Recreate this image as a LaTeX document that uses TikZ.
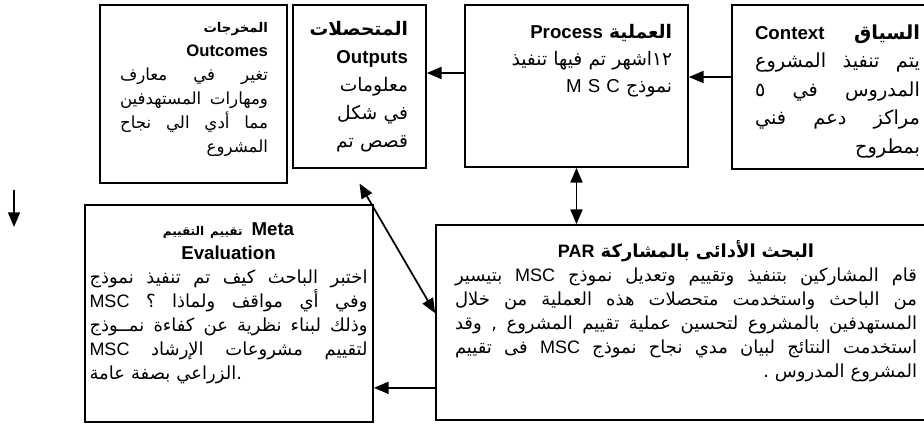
\documentclass[tikz,border=0pt]{standalone}
\usepackage{fontspec}
\setmainfont{Liberation Sans}
\newfontfamily\arabicfont[Script=Arabic]{DejaVu Sans}
\TeXXeTstate=1
\usetikzlibrary{arrows.meta,positioning}

% one line of a box: justified, flush right, centred, flush left
\ExplSyntaxOn
\seq_new:N \l_line_words_seq
\NewDocumentCommand\jl{m}{
  \seq_set_split:Nnn \l_line_words_seq {~} {#1}
  \hbox_to_wd:nn {\hsize} {\seq_use:Nn \l_line_words_seq {\skip_horizontal:n {0.3em~plus~1fill}}}
}
\ExplSyntaxOff
\newcommand\rl[1]{\hbox to\hsize{\hfil #1}}
\newcommand\cl[1]{\hbox to\hsize{\hfil #1\hfil}}
\newcommand\fl[1]{\hbox to\hsize{#1\hfil}}
\newcommand\lat[1]{\beginL{\rmfamily #1}\endL}
\newcommand\arsize[2]{\arabicfont\fontsize{#1}{#2}\selectfont}

\tikzset{
  box/.style={draw, line width=1.3pt, inner sep=0pt},
  txt/.style={inner sep=0pt, anchor=base},
  arr/.style={-{Triangle[length=11pt,width=9pt]}, line width=1.3pt},
  dblarr/.style={{Triangle[length=11pt,width=9pt]}-{Triangle[length=11pt,width=9pt]}, line width=1.3pt}
}

\begin{document}
\begin{tikzpicture}[x=0.75pt, y=-0.75pt]
\useasboundingbox (0,0) rectangle (924,425);
% boxes
\node[box, minimum width=150pt, minimum height=123pt] (Context) at (832,87) {};
\node[box, minimum width=167.25pt, minimum height=121.5pt] (Process) at (576.5,86) {};
\node[box, minimum width=99.75pt, minimum height=122.25pt] (Outputs) at (359.5,86.5) {};
\node[box, minimum width=140.25pt, minimum height=133.5pt] (Outcomes) at (193.5,94) {};
\node[box, minimum width=216pt, minimum height=162.75pt] (Meta) at (229,313.5) {};
\node[box, minimum width=372pt, minimum height=146.25pt] (PAR) at (684,322.5) {};
% texts
\node[txt, font=\arsize{14.5}{21.4}, text width=123.75pt] (ContextTxt) at (837.5,39) {%
  \jl{\beginR\bfseries السياق \lat{\fontsize{14}{16}\selectfont Context}\endR}
  \jl{\beginR يتم تنفيذ المشروع\endR}
  \jl{\beginR المدروس في ٥\endR}
  \jl{\beginR مراكز دعم فني\endR}
  \rl{\beginR بمطروح\endR}};
\node[txt, font=\arsize{14}{20.6}, text width=148pt] (ProcessTxt) at (573.5,38) {%
  \rl{\beginR\bfseries العملية \lat{\fontsize{14}{16}\selectfont Process}\endR}
  \rl{\beginR ١٢اشهر تم فيها تنفيذ\endR}
  \rl{\beginR نموذج \lat{M S C}\endR}};
\node[txt, font=\arsize{14}{21}, text width=81pt] (OutputsTxt) at (354,35) {%
  \rl{\beginR\bfseries المتحصلات\endR}
  \rl{\lat{\fontsize{14}{16}\selectfont\bfseries Outputs}}
  \rl{\beginR معلومات\endR}
  \rl{\beginR في شكل\endR}
  \rl{\beginR قصص تم\endR}};
\node[txt, font=\arsize{12.5}{18}, text width=111pt] (OutcomesTxt) at (194,32) {%
  \rl{\beginR\fontsize{10}{12}\selectfont\bfseries المخرجات\endR}
  \rl{\lat{\fontsize{12.5}{14}\selectfont\bfseries Outcomes}}
  \jl{\beginR تغير في معارف\endR}
  \jl{\beginR ومهارات المستهدفين\endR}
  \jl{\beginR مما أدي الي نجاح\endR}
  \rl{\beginR المشروع\endR}};
% this box runs left to right, with right-to-left runs in it
\node[txt, font=\arsize{13.5}{18}, text width=208.5pt] (MetaTxt) at (228.5,235) {%
  \cl{\beginR{\fontsize{9}{12}\selectfont\bfseries تقييم التقييم}\endR\enspace\lat{\fontsize{14}{15}\selectfont\bfseries Meta}}
  \cl{\lat{\fontsize{14}{15}\selectfont\bfseries Evaluation}}
  \jl{\beginR اختبر الباحث كيف تم تنفيذ نموذج\endR}
  \jl{\lat{MSC} \beginR وفي أي مواقف ولماذا ؟\endR}
  \jl{\beginR وذلك لبناء نظرية عن كفاءة نمــوذج\endR}
  \jl{\lat{MSC} \beginR لتقييم مشروعات الإرشاد\endR}
  \fl{\beginR الزراعي بصفة عامة\endR.}};
\node[txt, font=\arsize{13.5}{18}, text width=346.5pt] (PARTxt) at (686,257) {%
  \cl{\beginR\bfseries البحث الأدائى بالمشاركة \lat{\fontsize{13.5}{15}\selectfont\bfseries PAR}\endR}
  \jl{\beginR قام المشاركين بتنفيذ وتقييم وتعديل نموذج \lat{MSC} بتيسير\endR}
  \jl{\beginR من الباحث واستخدمت متحصلات هذه العملية من خلال\endR}
  \jl{\beginR المستهدفين بالمشروع لتحسين عملية تقييم المشروع , وقد\endR}
  \jl{\beginR استخدمت النتائج لبيان مدي نجاح نموذج \lat{MSC} فى تقييم\endR}
  \rl{\beginR المشروع المدروس .\endR}};
% connectors
\coordinate (drop) at (14,190);
\coordinate (dropEnd) at (14,227);
\draw[arr] ([yshift=7.5pt]Context.west) -- ([yshift=7.5pt]Context.west -| Process.east);
\draw[arr] ([yshift=9.75pt]Process.west) -- ([yshift=9.75pt]Process.west -| Outputs.east);
\draw[dblarr] (Process.south) -- (Process.south |- PAR.north);
\draw[dblarr] ([yshift=-11pt]Outputs.south) -- ([yshift=7pt]PAR.west);
\draw[arr] ([yshift=-49pt]PAR.west) -- ([yshift=-49pt]PAR.west -| Meta.east);
\draw[arr] (drop) -- (dropEnd);
\end{tikzpicture}
\end{document}
